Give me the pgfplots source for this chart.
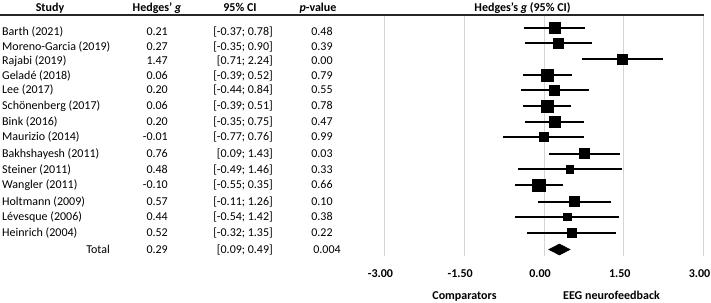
\documentclass[border=0pt]{standalone}
\usepackage{fontspec}
\setmainfont{Carlito}
\usepackage{pgfplots}
\usepackage{pgfplotstable}
\pgfplotsset{compat=1.18}
\definecolor{gridc}{HTML}{D4D4D4}
\pgfplotstableread{
g     lo     hi    y       s
0.21  -0.37  0.78  -27.5   5.5
0.27  -0.35  0.90  -43.0   5.0
1.47   0.71  2.24  -59.0   4.8
0.06  -0.39  0.52  -75.3   6.3
0.20  -0.44  0.84  -89.8   5.0
0.06  -0.39  0.51  -106.0  6.3
0.20  -0.35  0.75  -122.0  5.5
-0.01 -0.77  0.76  -137.0  4.5
0.76   0.09  1.43  -153.5  5.0
0.48  -0.49  1.46  -169.0  3.8
-0.10 -0.55  0.35  -185.0  6.3
0.57  -0.11  1.26  -201.5  5.0
0.44  -0.54  1.42  -216.7  3.8
0.52  -0.32  1.35  -232.5  4.3
}\studies
\newcommand\rowtext[5]{%
  \node[anchor=base west] at (2bp,-#1bp-3.8bp) {#2};
  \node[anchor=base east] at (168bp,-#1bp-3.8bp) {#3};
  \node[anchor=base east] at (273bp,-#1bp-3.8bp) {#4};
  \node[anchor=base] at (322bp,-#1bp-3.8bp) {#5};
}
\begin{document}
\fontsize{12bp}{14bp}\selectfont
\begin{tikzpicture}[inner sep=0pt]
\useasboundingbox (0,0) rectangle (711bp,-303bp);
\begin{axis}[
  at={(384.5bp,-256bp)}, anchor=south west,
  scale only axis, width=319bp, height=240bp,
  xmin=-3, xmax=3, ymin=-256, ymax=-16,
  clip=false,
  axis line style={draw=none},
  major tick style={draw=none},
  xtick={-3,-1.5,0,1.5,3},
  xticklabels={-3.00,-1.50,0.00,1.50,3.00},
  xticklabel style={font=\fontsize{12bp}{14bp}\selectfont\bfseries, anchor=base, yshift=-21bp, xshift=-4bp},
  ytick=\empty,
  xmajorgrids,
  grid style={gridc, line width=1bp},
]
\addplot[only marks, mark=none,
  error bars/.cd, x dir=both, x explicit, error mark=none,
  error bar style={draw=black, line width=2bp}]
  table[x=g, y=y,
        x error plus expr=\thisrow{hi}-\thisrow{g},
        x error minus expr=\thisrow{g}-\thisrow{lo}] {\studies};
\addplot[only marks, mark=square*, scatter,
  scatter/use mapped color={draw=black, fill=black},
  visualization depends on={\thisrow{s} \as \msz},
  scatter/@pre marker code/.append style={/tikz/mark size=\msz bp}]
  table[x=g, y=y] {\studies};
\addplot[fill=black, draw=black, line width=0.5bp]
  coordinates {(0.09,-249.5) (0.29,-244) (0.49,-249.5) (0.29,-255)} -- cycle;
\end{axis}
\draw[line width=1.5bp, black!85] (0,-15bp) -- (703.5bp,-15bp);
\begin{scope}[font=\bfseries]
\node[anchor=base] at (50bp,-11bp) {Study};
\node[anchor=base] at (157bp,-11bp) {Hedges' \textit{g}};
\node[anchor=base] at (240bp,-11bp) {95\% CI};
\node[anchor=base] at (318bp,-11bp) {\textit{p}-value};
\node[anchor=base] at (522.5bp,-11bp) {Hedges's \textit{g} (95\% CI)};
\node[anchor=base] at (464.5bp,-299bp) {Comparators};
\node[anchor=base] at (611.5bp,-299bp) {EEG neurofeedback};
\end{scope}
\rowtext{32}{Barth (2021)}{0.21}{[-0.37; 0.78]}{0.48}
\rowtext{47}{Moreno-Garcia (2019)}{0.27}{[-0.35; 0.90]}{0.39}
\rowtext{60.7}{Rajabi (2019)}{1.47}{[0.71; 2.24]}{0.00}
\rowtext{75.3}{Geladé (2018)}{0.06}{[-0.39; 0.52]}{0.79}
\rowtext{90}{Lee (2017)}{0.20}{[-0.44; 0.84]}{0.55}
\rowtext{106}{Schönenberg (2017)}{0.06}{[-0.39; 0.51]}{0.78}
\rowtext{122}{Bink (2016)}{0.20}{[-0.35; 0.75]}{0.47}
\rowtext{137}{Maurizio (2014)}{-0.01}{[-0.77; 0.76]}{0.99}
\rowtext{154}{Bakhshayesh (2011)}{0.76}{[0.09; 1.43]}{0.03}
\rowtext{170}{Steiner (2011)}{0.48}{[-0.49; 1.46]}{0.33}
\rowtext{185}{Wangler (2011)}{-0.10}{[-0.55; 0.35]}{0.66}
\rowtext{201.7}{Holtmann (2009)}{0.57}{[-0.11; 1.26]}{0.10}
\rowtext{217}{Lévesque (2006)}{0.44}{[-0.54; 1.42]}{0.38}
\rowtext{232.7}{Heinrich (2004)}{0.52}{[-0.32; 1.35]}{0.22}
\node[anchor=base east] at (110bp,-253.8bp) {Total};
\node[anchor=base east] at (168bp,-253.8bp) {0.29};
\node[anchor=base east] at (273bp,-253.8bp) {[0.09; 0.49]};
\node[anchor=base] at (327bp,-253.8bp) {0.004};
\end{tikzpicture}
\end{document}
